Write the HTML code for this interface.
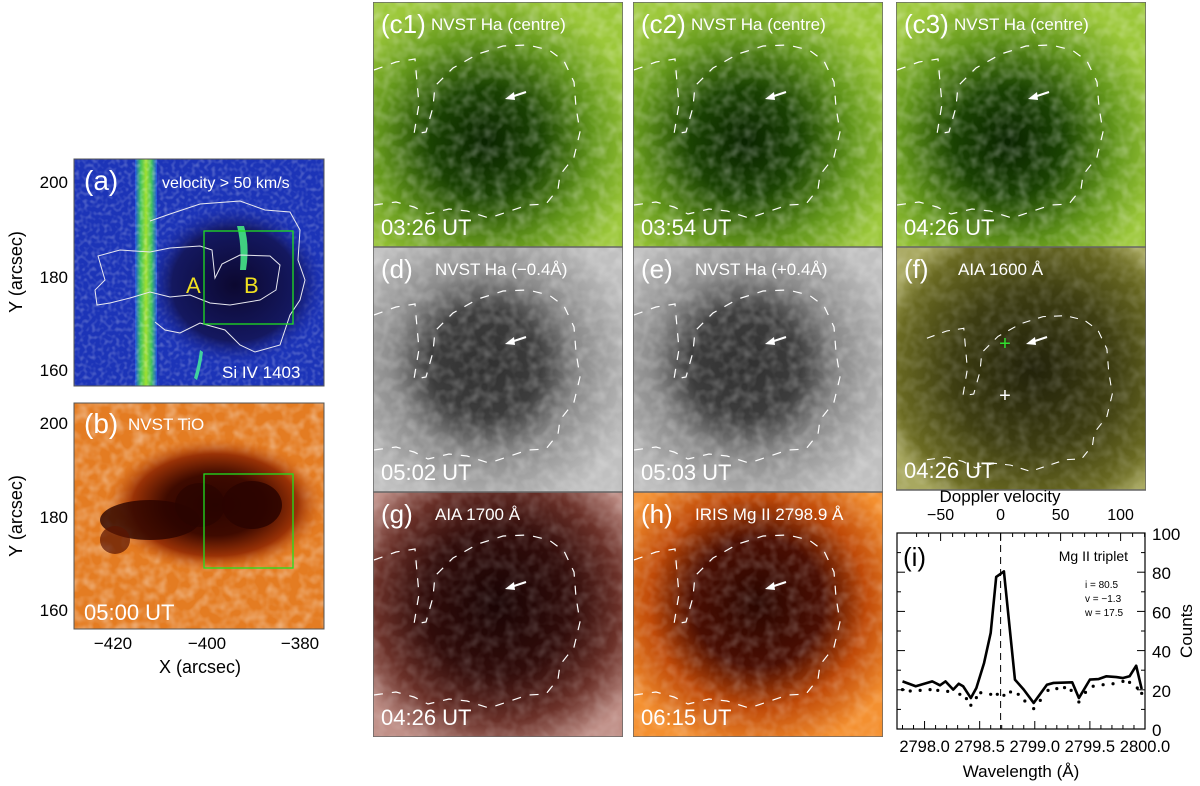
<!DOCTYPE html>
<html><head><meta charset="utf-8">
<style>
html,body{margin:0;padding:0;background:#fff;}
svg{display:block;font-family:"Liberation Sans",sans-serif;}
</style></head>
<body>
<svg id="fig" width="1200" height="786" viewBox="0 0 1200 786" xmlns="http://www.w3.org/2000/svg">
<defs>
  <filter id="noise" x="0" y="0" width="100%" height="100%">
    <feTurbulence type="fractalNoise" baseFrequency="0.09" numOctaves="2" seed="3"/>
    <feColorMatrix type="matrix" values="0 0 0 0 1  0 0 0 0 1  0 0 0 0 1  0 0 0 1.6 -0.6"/>
  </filter>
  <filter id="noiseFine" x="0" y="0" width="100%" height="100%">
    <feTurbulence type="fractalNoise" baseFrequency="0.25" numOctaves="1" seed="7"/>
    <feColorMatrix type="matrix" values="0 0 0 0 1  0 0 0 0 1  0 0 0 0 1  0 0 0 1.8 -0.8"/>
  </filter>
  <radialGradient id="gGreen" cx="0.45" cy="0.57" r="0.62">
    <stop offset="0" stop-color="#0a2400"/><stop offset="0.35" stop-color="#1a4202"/><stop offset="0.7" stop-color="#64981c"/><stop offset="1" stop-color="#9cc83a"/>
  </radialGradient>
  <radialGradient id="gGray" cx="0.45" cy="0.48" r="0.62">
    <stop offset="0" stop-color="#303030"/><stop offset="0.35" stop-color="#3c3c3c"/><stop offset="0.6" stop-color="#8a8a8a"/><stop offset="1" stop-color="#c0c0c0"/>
  </radialGradient>
  <radialGradient id="gOlive" cx="0.55" cy="0.5" r="0.65">
    <stop offset="0" stop-color="#22220a"/><stop offset="0.5" stop-color="#3e3e12"/><stop offset="0.85" stop-color="#6a6a22"/><stop offset="1" stop-color="#a8a860"/>
  </radialGradient>
  <radialGradient id="gMaroon" cx="0.5" cy="0.45" r="0.65">
    <stop offset="0" stop-color="#1a0404"/><stop offset="0.45" stop-color="#300c0a"/><stop offset="0.75" stop-color="#6a3028"/><stop offset="1" stop-color="#c09088"/>
  </radialGradient>
  <radialGradient id="gOrange" cx="0.5" cy="0.45" r="0.62">
    <stop offset="0" stop-color="#2a0600"/><stop offset="0.42" stop-color="#4a0e02"/><stop offset="0.7" stop-color="#c04a08"/><stop offset="1" stop-color="#f49030"/>
  </radialGradient>
  <radialGradient id="gSpot" cx="0.5" cy="0.5" r="0.5">
    <stop offset="0" stop-color="#2a0400"/><stop offset="0.45" stop-color="#3e0a00"/><stop offset="0.75" stop-color="#9a3206"/><stop offset="1" stop-color="#d86a18" stop-opacity="0"/>
  </radialGradient>
  <linearGradient id="gBand" x1="0" x2="1" y1="0" y2="0">
    <stop offset="0" stop-color="#2050e0"/><stop offset="0.25" stop-color="#40c060"/><stop offset="0.5" stop-color="#a0e030"/><stop offset="0.75" stop-color="#40c060"/><stop offset="1" stop-color="#2050e0"/>
  </linearGradient>
  <radialGradient id="gBlueDark" cx="0.5" cy="0.5" r="0.5">
    <stop offset="0" stop-color="#0c0830"/><stop offset="0.7" stop-color="#141860"/><stop offset="1" stop-color="#1a2aa8" stop-opacity="0"/>
  </radialGradient>
  <clipPath id="cpA"><rect x="74" y="159" width="250" height="227"/></clipPath>
  <clipPath id="cpB"><rect x="74" y="403" width="250" height="226"/></clipPath>
  <path id="contour" d="M1,68 L23,60 L42,57 L44,80 L46,102 L41,132 L53,130 L60,105 L62,84 L80,66 L105,52 L130,44 L155,43 L176,48 L191,59 L201,80 L203,105 L207,130 L201,155 L187,173 L185,187 L173,202 L155,203 L137,209 L116,216 L94,209 L76,207 L55,212 L41,205 L23,200 L1,203" fill="none" stroke="#fff" stroke-width="1.2" stroke-dasharray="9,9"/>
  <g id="arrow"><line x1="153" y1="90" x2="138" y2="95" stroke="#fff" stroke-width="2"/><polygon points="132,97 141,90 142,98" fill="#fff"/></g>
  <clipPath id="cp250"><rect x="0" y="0" width="250" height="245"/></clipPath>
</defs>

<!-- Panel (a) -->
<g>
  <g clip-path="url(#cpA)">
  <rect x="74" y="159" width="250" height="227" fill="#1c34b8"/>
  <rect x="74" y="159" width="250" height="227" filter="url(#noiseFine)" opacity="0.35"/>
  <ellipse cx="235" cy="285" rx="90" ry="80" fill="url(#gBlueDark)"/>
  <rect x="135" y="159" width="22" height="227" fill="url(#gBand)"/>
  <rect x="135" y="159" width="22" height="227" filter="url(#noiseFine)" opacity="0.4"/>
  <path d="M237,226 Q242,245 240,270 L246,270 Q250,245 244,226 Z" fill="#40d080"/>
  <path d="M194,378 Q198,365 200,350 L203,352 Q201,368 197,380 Z" fill="#40d0a0"/>
  <path d="M98,256 L120,250 L150,252 L170,248 L200,246 L212,250 L215,278 L222,264 L240,255 L270,256 L280,265 L276,290 L260,300 L230,305 L210,303 L190,295 L170,297 L150,292 L130,298 L110,303 L97,305 L95,290 L105,280 Z M150,221 L170,214 L200,204 L240,201 L265,210 L290,212 L300,230 L298,260 L305,280 L300,300 L290,315 L280,345 L255,352 L240,345 L225,330 L200,323 L180,333 L165,330 L155,322" fill="none" stroke="#e8e8f0" stroke-width="1"/>
  </g>
  <rect x="204" y="231" width="89" height="93" fill="none" stroke="#20e020" stroke-width="1.3"/>
  <rect x="74" y="159" width="250" height="227" fill="none" stroke="#555" stroke-width="1"/>
  <text x="84" y="190" font-size="28" fill="#fff">(a)</text>
  <text x="162" y="188" font-size="16" fill="#fff">velocity &gt; 50 km/s</text>
  <text x="186" y="293" font-size="22" fill="#f0e020">A</text>
  <text x="244" y="293" font-size="22" fill="#f0e020">B</text>
  <text x="222" y="378" font-size="17" fill="#fff">Si IV 1403</text>
</g>

<!-- Panel (b) -->
<g>
  <g clip-path="url(#cpB)">
  <rect x="74" y="403" width="250" height="226" fill="#e47c22"/>
  <rect x="74" y="403" width="250" height="226" filter="url(#noise)" opacity="0.45"/>
  <ellipse cx="215" cy="505" rx="110" ry="68" fill="url(#gSpot)"/>
  <ellipse cx="150" cy="520" rx="50" ry="20" fill="#2a0400" opacity="0.8"/>
  <ellipse cx="200" cy="505" rx="25" ry="22" fill="#2a0400" opacity="0.7"/>
  <ellipse cx="252" cy="505" rx="30" ry="24" fill="#2a0400" opacity="0.85"/>
  <ellipse cx="115" cy="540" rx="15" ry="14" fill="#5a1402" opacity="0.7"/>
  </g>
  <rect x="204" y="474" width="89" height="94" fill="none" stroke="#20e020" stroke-width="1.3"/>
  <rect x="74" y="403" width="250" height="226" fill="none" stroke="#555" stroke-width="1"/>
  <text x="84" y="433" font-size="28" fill="#fff">(b)</text>
  <text x="128" y="430" font-size="17" fill="#fff">NVST TiO</text>
  <text x="84" y="620" font-size="22" fill="#fff">05:00 UT</text>
</g>

<!-- left axes -->
<g font-size="17" fill="#000" text-anchor="end">
  <text x="68" y="188">200</text><text x="68" y="283">180</text><text x="68" y="376">160</text>
  <text x="68" y="429">200</text><text x="68" y="523">180</text><text x="68" y="616">160</text>
  <text text-anchor="middle" x="113" y="649">−420</text><text text-anchor="middle" x="207" y="649">−400</text><text text-anchor="middle" x="300" y="649">−380</text>
  <text text-anchor="middle" x="200" y="673" font-size="18">X (arcsec)</text>
  <text text-anchor="middle" transform="translate(22,272) rotate(-90)" font-size="18">Y (arcsec)</text>
  <text text-anchor="middle" transform="translate(22,516) rotate(-90)" font-size="18">Y (arcsec)</text>
</g>

<g id="grid"></g>
<g id="chart"></g>

<script>
const wavelengthsSolid = [2797.80,2797.92,2798.07,2798.14,2798.19,2798.26,2798.31,2798.35,2798.42,2798.47,2798.54,2798.60,2798.65,2798.72,2798.82,2798.90,2798.99,2799.11,2799.17,2799.34,2799.40,2799.50,2799.58,2799.65,2799.74,2799.80,2799.86,2799.92,2799.97];
const countsSolid = [24.3,21.8,24.3,22.3,24.3,20.1,23.1,21.8,15.8,20.9,33.7,49,77.6,80.4,25.2,20.1,13.3,22.6,23.5,23.8,15.8,25.2,25.5,26.9,26.5,26.0,26.9,32.3,20.4];
const wavelengthsDotted = [2797.80,2797.87,2797.96,2798.05,2798.12,2798.21,2798.32,2798.38,2798.42,2798.47,2798.51,2798.60,2798.66,2798.72,2798.78,2798.85,2798.91,2798.99,2799.05,2799.12,2799.20,2799.27,2799.33,2799.40,2799.46,2799.53,2799.62,2799.71,2799.80,2799.86,2799.93,2799.97];
const countsDotted = [20.1,19.4,19.7,20.1,19.7,19.2,17.7,15.5,12.1,16.0,18.5,17.7,17.7,17.2,18.9,17.7,14.3,10.4,14.6,19.7,20.6,21.1,19.7,13.8,18.7,21.8,22.6,23.1,24.3,23.8,20.9,18.2];
const lineCentre = [2798.69];
const xTicks = [2798.0,2798.5,2799.0,2799.5,2800.0];
const xTickLabels = ["2798.0","2798.5","2799.0","2799.5","2800.0"];
const yTicks = [0,20,40,60,80,100];
const vTicks = [-50,0,50,100];
const infoLines = ["i = 80.5","v = −1.3","w = 17.5"];

const NS = "http://www.w3.org/2000/svg";
const PX0 = 897, PX1 = 1145, PY0 = 729, PY1 = 533;
const X_MIN = 2797.75, X_MAX = 2800.0, Y_MIN = 0, Y_MAX = 100;
const xScale = v => PX0 + (v - X_MIN) / (X_MAX - X_MIN) * (PX1 - PX0);
const yScale = v => PY0 - (v - Y_MIN) / (Y_MAX - Y_MIN) * (PY0 - PY1);

function mk(tag, attrs, parent, txt) {
  const e = document.createElementNS(NS, tag);
  for (const k in attrs) e.setAttribute(k, attrs[k]);
  if (txt !== undefined) e.textContent = txt;
  parent.appendChild(e);
  return e;
}
const chart = document.getElementById('chart');
mk('rect', {x: PX0, y: PY1, width: PX1 - PX0, height: PY0 - PY1, fill: '#fff', stroke: '#000', 'stroke-width': 1.2}, chart);
for (let t = 2797.8; t <= 2800.0001; t += 0.1) {
  const x = xScale(t); const major = Math.abs(Math.round(t * 2) - t * 2) < 0.01;
  mk('line', {x1: x, x2: x, y1: PY0, y2: PY0 - (major ? 8 : 4), stroke: '#000'}, chart);
}
xTicks.forEach((t, i) => {
  const e = mk('text', {x: xScale(t), y: 752, 'font-size': 16.5, 'text-anchor': 'middle'}, chart, xTickLabels[i]);
  
  
});
let tl = mk('text', {x: 1021, y: 777, 'font-size': 17, 'text-anchor': 'middle'}, chart, 'Wavelength (Å)');


yTicks.forEach(t => {
  const y = yScale(t);
  mk('line', {x1: PX1, x2: PX1 - 8, y1: y, y2: y, stroke: '#000'}, chart);
  mk('line', {x1: PX0, x2: PX0 + 8, y1: y, y2: y, stroke: '#000'}, chart);
  const e = mk('text', {x: 1152, y: y + 7, 'font-size': 17}, chart, String(t));
  
  
});
for (let t = 10; t < 100; t += 20) {
  const y = yScale(t);
  mk('line', {x1: PX1, x2: PX1 - 4, y1: y, y2: y, stroke: '#000'}, chart);
  mk('line', {x1: PX0, x2: PX0 + 4, y1: y, y2: y, stroke: '#000'}, chart);
}
let yt = mk('text', {transform: 'translate(1192,631) rotate(-90)', 'font-size': 17, 'text-anchor': 'middle'}, chart, 'Counts');


const vPx = v => xScale(lineCentre[0]) + v * 1.2;
for (let v = -70; v <= 120; v += 10) {
  const x = vPx(v); if (x < PX0 || x > PX1) continue;
  mk('line', {x1: x, x2: x, y1: PY1, y2: PY1 + (v % 50 === 0 ? 8 : 4), stroke: '#000'}, chart);
}
vTicks.forEach(v => {
  const e = mk('text', {x: vPx(v), y: 520, 'font-size': 16, 'text-anchor': 'middle'}, chart, v < 0 ? '−' + Math.abs(v) : String(v));
  
  
});
let vt = mk('text', {x: 1000, y: 502, 'font-size': 17, 'text-anchor': 'middle'}, chart, 'Doppler velocity');


const cl = mk('line', {x1: xScale(lineCentre[0]), x2: xScale(lineCentre[0]), y1: PY1, y2: PY0, stroke: '#000', 'stroke-dasharray': '7,5', 'stroke-width': 1}, chart);


const sp = mk('polyline', {points: wavelengthsSolid.map((w, i) => xScale(w) + ',' + yScale(countsSolid[i])).join(' '), fill: 'none', stroke: '#000', 'stroke-width': 2.6, 'stroke-linejoin': 'round'}, chart);


wavelengthsDotted.forEach((w, i) => {
  const d = mk('circle', {cx: xScale(w), cy: yScale(countsDotted[i]), r: 1.6, fill: '#000'}, chart);
  
  
});
let lab = mk('text', {x: 903, y: 566, 'font-size': 26}, chart, '(i)');


let ttl = mk('text', {x: 1128, y: 561, 'font-size': 14, 'text-anchor': 'end'}, chart, 'Mg II triplet');


infoLines.forEach((s, i) => {
  const e = mk('text', {x: 1085, y: 588 + i * 14, 'font-size': 10}, chart, s);
  
  
});

const grid = document.getElementById('grid');
const panels = [
  {x:373,y:2,fill:'url(#gGreen)',lab:'(c1)',title:'NVST Ha (centre)',time:'03:26 UT',name:'panel-c1',noise:0.35},
  {x:633,y:2,fill:'url(#gGreen)',lab:'(c2)',title:'NVST Ha (centre)',time:'03:54 UT',name:'panel-c2',noise:0.35},
  {x:896,y:2,fill:'url(#gGreen)',lab:'(c3)',title:'NVST Ha (centre)',time:'04:26 UT',name:'panel-c3',noise:0.35},
  {x:373,y:247,fill:'url(#gGray)',lab:'(d)',title:'NVST Ha (−0.4Å)',time:'05:02 UT',name:'panel-d',noise:0.3},
  {x:633,y:247,fill:'url(#gGray)',lab:'(e)',title:'NVST Ha (+0.4Å)',time:'05:03 UT',name:'panel-e',noise:0.3},
  {x:896,y:247,fill:'url(#gOlive)',lab:'(f)',title:'AIA 1600 Å',time:'04:26 UT',name:'panel-f',noise:0.2},
  {x:373,y:492,fill:'url(#gMaroon)',lab:'(g)',title:'AIA 1700 Å',time:'04:26 UT',name:'panel-g',noise:0.2},
  {x:633,y:492,fill:'url(#gOrange)',lab:'(h)',title:'IRIS Mg II 2798.9 Å',time:'06:15 UT',name:'panel-h',noise:0.25}
];
panels.forEach(p => {
  const g = mk('g', {transform: `translate(${p.x},${p.y})`, 'clip-path': 'url(#cp250)'}, grid);
  
  
  const h = p.name === 'panel-f' ? 243 : 245;
  mk('rect', {x:0, y:0, width:250, height:h, fill:p.fill}, g);
  mk('rect', {x:0, y:0, width:250, height:h, filter:'url(#noise)', opacity:p.noise}, g);
  mk('use', {href:'#contour', transform: p.name === 'panel-f' ? 'translate(30,30) scale(0.9)' : ''}, g);
  if (p.name !== 'panel-f') mk('use', {href:'#arrow'}, g);
  else {
    mk('use', {href:'#arrow', transform:'translate(-2,0)'}, g);
    mk('text', {x:109, y:103, 'font-size':20, fill:'#30e030', 'text-anchor':'middle'}, g, '+');
    mk('text', {x:109, y:155, 'font-size':20, fill:'#fff', 'text-anchor':'middle'}, g, '+');
  }
  mk('rect', {x:0, y:0, width:250, height:h, fill:'none', stroke:'#666', 'stroke-width':1.5}, g);
  const l = mk('text', {x:8, y:31, 'font-size':26, fill:'#fff'}, g, p.lab);
  
  
  const t = mk('text', {x: p.lab.length > 3 ? 58 : 62, y:28, 'font-size':17, fill:'#fff'}, g, p.title);
  
  
  const tm = mk('text', {x:8, y:h - 12, 'font-size':22, fill:'#fff'}, g, p.time);
  
  
});
</script>
</svg>
</body></html>
